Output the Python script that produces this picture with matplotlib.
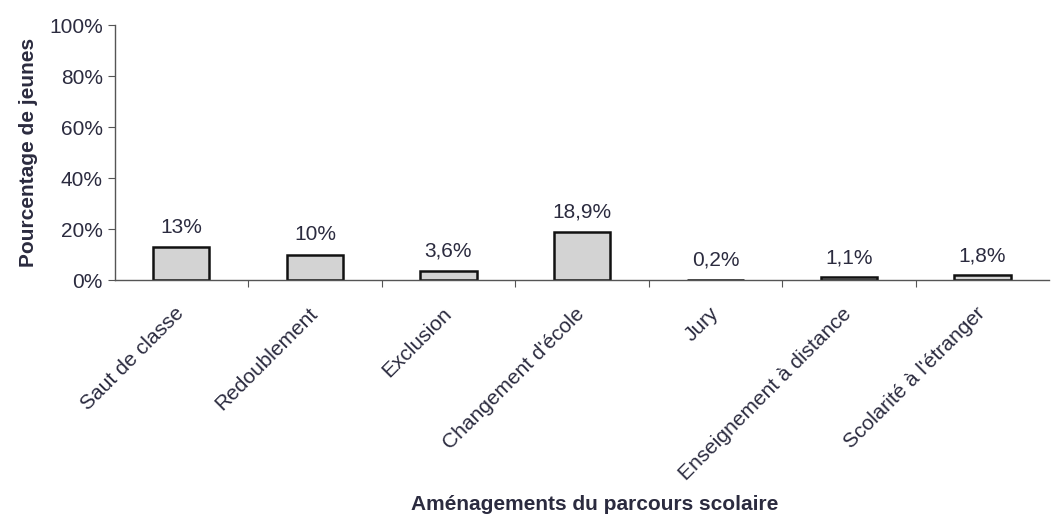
import matplotlib
matplotlib.use("Agg")
import matplotlib.pyplot as plt
from matplotlib.ticker import PercentFormatter

plt.rcParams['font.family'] = ['Liberation Sans', 'DejaVu Sans']

# aménagements et pourcentages
categories = ["Saut de classe", "Redoublement", "Exclusion", "Changement d'école",
              "Jury", "Enseignement à distance", "Scolarité à l'étranger"]
valeurs = [13, 10, 3.6, 18.9, 0.2, 1.1, 1.8]
etiquettes = ["13%", "10%", "3,6%", "18,9%", "0,2%", "1,1%", "1,8%"]

texte = "#2b2b3f"
taille = 15

fig = plt.figure(figsize=(10.62, 5.2), dpi=100)
ax = fig.add_axes([0.108, 0.4615, 0.88, 0.49])

x = range(len(categories))
ax.bar(x, valeurs, width=0.42, color="#d3d3d3", edgecolor="#111111", linewidth=1.8)

for xi, v, e in zip(x, valeurs, etiquettes):
    ax.text(xi, v + 4, e, ha="center", va="bottom", fontsize=taille, color=texte)

ax.set_xlim(-0.5, len(categories) - 0.5)
ax.set_ylim(0, 100)
ax.set_yticks(range(0, 101, 20))
ax.yaxis.set_major_formatter(PercentFormatter(decimals=0))

# ticks x entre les catégories, noms au centre des barres
ax.set_xticks([i + 0.5 for i in range(len(categories) - 1)], minor=False)
ax.set_xticklabels([])
ax.set_xticks(list(x), minor=True)
ax.set_xticklabels(categories, minor=True, rotation=45, ha="right", va="center",
                   rotation_mode="anchor", fontsize=taille, color=texte)
ax.tick_params(axis="x", which="minor", length=0, pad=22)
ax.tick_params(axis="x", which="major", length=5, direction="out", color="#555555")
ax.tick_params(axis="y", length=5, color="#555555", labelsize=taille, labelcolor=texte)

for s in ["top", "right"]:
    ax.spines[s].set_visible(False)
for s in ["left", "bottom"]:
    ax.spines[s].set_color("#555555")
    ax.spines[s].set_linewidth(1.0)

ax.set_ylabel("Pourcentage de jeunes", fontsize=taille, fontweight="bold", color=texte, labelpad=8)
fig.text(0.56, 0.02, "Aménagements du parcours scolaire", ha="center",
         fontsize=taille, fontweight="bold", color=texte)

fig.savefig("out.png", dpi=100)
